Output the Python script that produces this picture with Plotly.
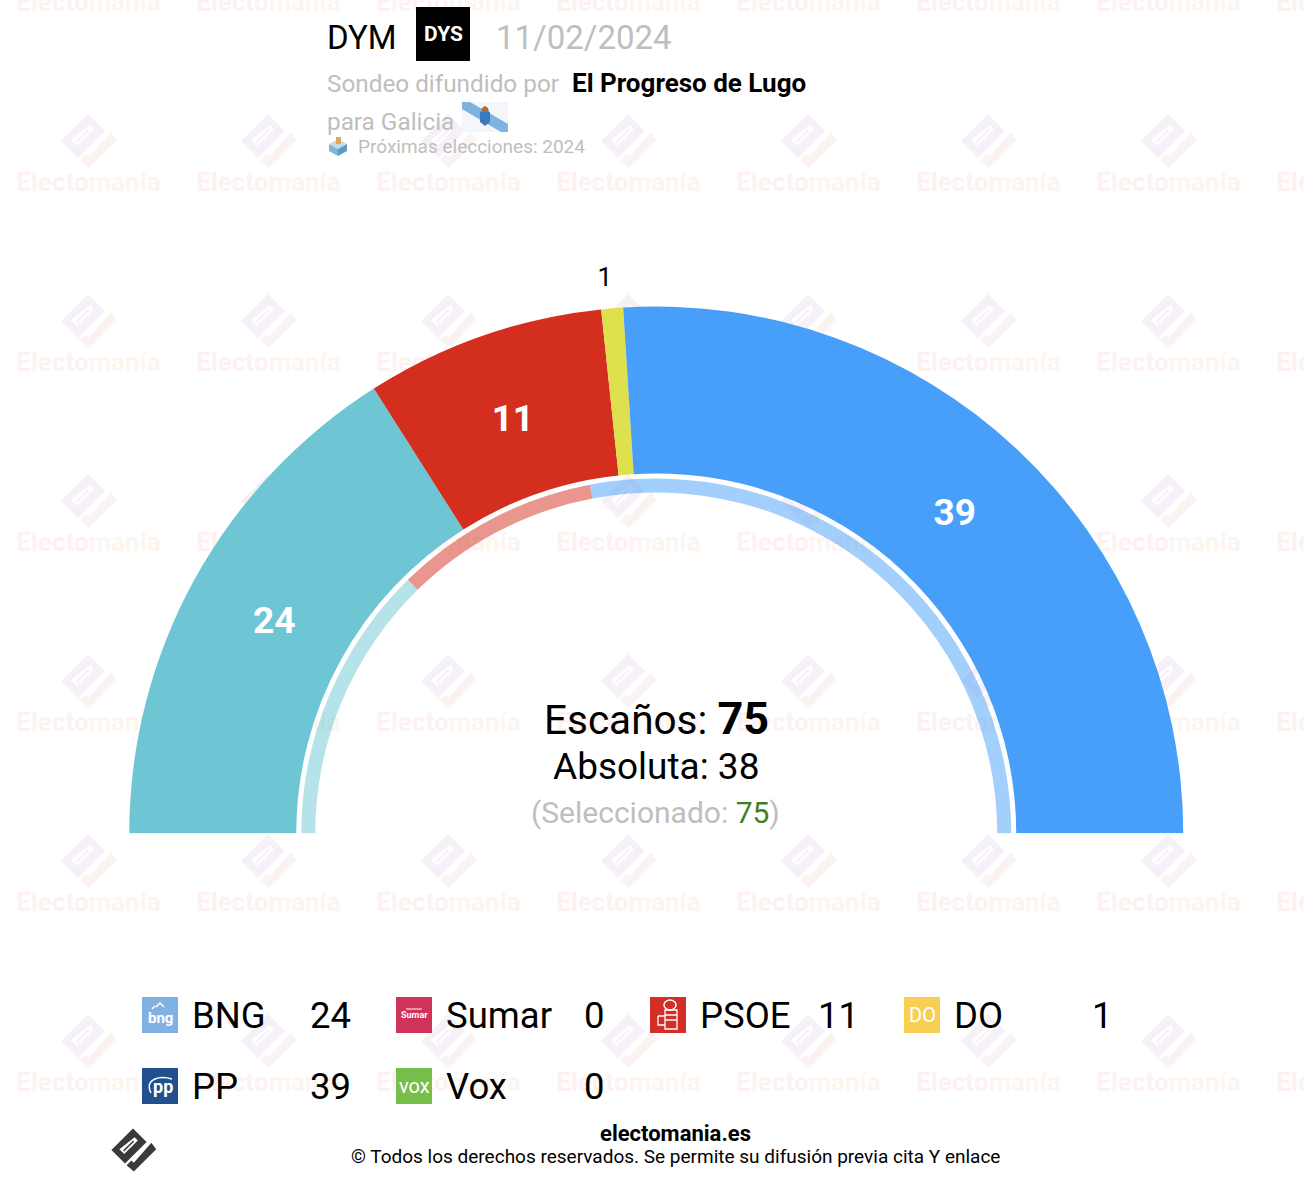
import plotly.graph_objects as go

# Datos del sondeo
partidos = ["BNG", "Sumar", "PSOE", "DO", "PP", "Vox"]
escanos = [24, 0, 11, 1, 39, 0]
colores = ["rgb(110,198,212)", "rgb(208,50,90)", "rgb(211,46,30)", "rgb(223,224,77)", "rgb(71,159,250)", "rgb(120,190,75)"]

# Anillo interior: resultado anterior
escanos_previos = [19, 0, 14, 0, 42, 0]

# Leyenda, por filas
leyenda_partidos = ["BNG", "Sumar", "PSOE", "DO", "PP", "Vox"]
leyenda_escanos = [24, 0, 11, 1, 39, 0]

TOTAL = 75
ABSOLUTA = 38
SELECCIONADO = 75

ANCHO = 1304
ALTO = 1188
FUENTE = "Roboto"
GRIS = "rgb(190,190,190)"
# Centro del semicírculo y radio del subplot polar, en píxeles (1 unidad de r = 1 px)
CX, CY, RADIO = 656.25, 833.5, 600


def sectores(valores):
    """Devuelve centro y ancho angular de cada sector (de izquierda a derecha)."""
    total = sum(valores)
    centros, anchos = [], []
    acumulado = 0
    for v in valores:
        ancho = 180 * v / total
        centros.append(180 - acumulado - ancho / 2)
        anchos.append(ancho)
        acumulado += ancho
    return centros, anchos


def logo_cuerpo(cx, cy, k=1.0):
    """Rombo del logo con la ranura y la barra interior."""
    def p(pts):
        return "M" + " L".join(f"{cx + x * k:.1f},{cy + y * k:.1f}" for x, y in pts) + " Z"
    return (p([(0, -27), (17, -10), (-10, 17), (-27, 0)])
            + p([(2, -16), (6, -12), (-11, 5), (-17, -1)])
            + p([(0, -12), (1.5, -10.5), (-11, 2), (-12.5, 0.5)]))


def logo_check(cx, cy, k=1.0):
    """Parte inferior del logo, en forma de marca."""
    pts = [(23, -9), (29, -1), (1, 27), (-8, 19), (-2, 13), (1, 16)]
    return "M" + " L".join(f"{cx + x * k:.1f},{cy + y * k:.1f}" for x, y in pts) + " Z"


def texto(x, y, s, size, color="black", anchor="left", bold=False):
    # las anotaciones dejan unos 3 px de relleno a cada lado
    desplaza = {"left": -3, "right": 3, "center": 0}[anchor]
    return dict(x=x + desplaza, y=y, xref="x", yref="y", text=f"<b>{s}</b>" if bold else s, showarrow=False,
                xanchor=anchor, yanchor="middle", font=dict(family=FUENTE, size=size, color=color))


fig = go.Figure()

# Marca de agua (por debajo del gráfico polar)
marca_x, marca_y = [], []
for fila in [4, 184, 364, 544, 724, 904, 1084]:
    for col in [88.5, 268.5, 448.5, 628.5, 808.5, 988.5, 1168.5, 1348.5]:
        marca_x.append(col)
        marca_y.append(fila)
marca = '<b><span style="color:#fdf2f1">Electo</span><span style="color:#fdf5ef">manía</span></b>'
fig.add_trace(go.Scatter(x=marca_x, y=marca_y, mode="text", text=[marca] * len(marca_x),
                         textfont=dict(family=FUENTE, size=26), textposition="middle center",
                         hoverinfo="skip", showlegend=False, cliponaxis=True))

shapes = []
for fila in [141, 321, 501, 681, 861, 1041]:
    for col in [88, 268, 448, 628, 808, 988, 1168]:
        shapes.append(dict(type="path", path=logo_cuerpo(col, fila), fillcolor="#f6f0f8", line_width=0, layer="below"))
        shapes.append(dict(type="path", path=logo_check(col, fila), fillcolor="#faf3f1", line_width=0, layer="below"))

# Semicírculo principal
theta, width = sectores(escanos)
fig.add_trace(go.Barpolar(theta=theta, width=width, r=[527 - 360] * len(partidos), base=360,
                          marker=dict(color=colores, line_width=0), hoverinfo="skip", showlegend=False))

# Anillo interior con el resultado anterior
theta_p, width_p = sectores(escanos_previos)
fig.add_trace(go.Barpolar(theta=theta_p, width=width_p, r=[355 - 341] * len(partidos), base=341,
                          marker=dict(color=colores, line_width=0, opacity=0.5), hoverinfo="skip", showlegend=False))

# Etiquetas de escaños dentro y fuera de los sectores
grandes = [i for i, e in enumerate(escanos) if e > 1]
fig.add_trace(go.Scatterpolar(theta=[theta[i] for i in grandes], r=[436] * len(grandes),
                              text=[f"<b>{escanos[i]}</b>" for i in grandes], mode="text",
                              textfont=dict(family=FUENTE, size=37, color="white"),
                              hoverinfo="skip", showlegend=False))
pequenos = [i for i, e in enumerate(escanos) if e == 1]
fig.add_trace(go.Scatterpolar(theta=[theta[i] + 0.5 for i in pequenos], r=[556] * len(pequenos),
                              text=[str(escanos[i]) for i in pequenos], mode="text",
                              textfont=dict(family=FUENTE, size=26, color="black"),
                              hoverinfo="skip", showlegend=False))

annotations = [
    # Cabecera
    texto(328, 37, "DYM", 33),
    texto(443, 34, "DYS", 21, "white", "center", True),
    texto(497, 37, "11/02/2024", 33, GRIS),
    texto(328, 83, "Sondeo difundido por", 24.3, GRIS),
    texto(573, 83, "El Progreso de Lugo", 26, "black", bold=True),
    texto(328, 121, "para Galicia", 24.3, GRIS),
    texto(359, 146, "Próximas elecciones: 2024", 19, GRIS),
    # Centro
    texto(656, 718, f"Escaños: <b><span style='font-size:45px'>{TOTAL}</span></b>", 40.5, "black", "center"),
    texto(656, 766, f"Absoluta: {ABSOLUTA}", 37, "black", "center"),
    texto(655, 812, f"(Seleccionado: <span style='color:#3f7f1f'>{SELECCIONADO}</span>)", 30, GRIS, "center"),
    # Pie
    texto(675.5, 1133, "electomania.es", 22, "black", "center", True),
    texto(675.5, 1156, "© Todos los derechos reservados. Se permite su difusión previa cita Y enlace", 19, "black", "center"),
]

shapes += [
    dict(type="rect", x0=416, x1=470, y0=7, y1=61, fillcolor="black", line_width=0),
    # Bandera de Galicia
    dict(type="rect", x0=462, x1=508, y0=102, y1=132, fillcolor="#f3f6fa", line_width=0),
    dict(type="path", path="M462,102 L470,102 L508,124 L508,132 L501,132 L462,109 Z", fillcolor="#7fb2e0", line_width=0),
    dict(type="path", path="M480,112 L490,112 L490,122 L485,126 L480,122 Z", fillcolor="#3a78c0", line_width=0),
    dict(type="path", path="M481,112 L482,108 L485,106 L488,108 L489,112 Z", fillcolor="#a8703f", line_width=0),
    # Urna
    dict(type="path", path="M329,144 L338,139 L347,144 L338,149 Z", fillcolor="#c3dcec", line_width=0),
    dict(type="path", path="M329,144 L338,149 L338,156 L329,151 Z", fillcolor="#7fb4d8", line_width=0),
    dict(type="path", path="M338,149 L347,144 L347,151 L338,156 Z", fillcolor="#5f9ac6", line_width=0),
    dict(type="rect", x0=336, x1=341, y0=137, y1=144, fillcolor="#e0a860", line_width=0),
    # Logo inferior
    dict(type="path", path=logo_cuerpo(133, 1150, 0.8), fillcolor="#3a3a3a", line_width=0),
    dict(type="path", path=logo_check(133, 1150, 0.8), fillcolor="#3a3a3a", line_width=0),
]

# Leyenda con los iconos de los partidos
colores_icono = {"BNG": "#7fb2e3", "Sumar": "#d0325a", "PSOE": "#d32f26", "DO": "#f9cf53", "PP": "#22508f", "Vox": "#78be4b"}
rotulos_icono = {"BNG": ("bng", 15, True), "Sumar": ("Sumar", 9, True), "PSOE": ("", 10, False),
                 "DO": ("DO", 20, False), "PP": ("pp", 18, True), "Vox": ("vox", 20, False)}
for i, (nombre, valor) in enumerate(zip(leyenda_partidos, leyenda_escanos)):
    col = i % 4
    x0 = 142 + 254 * col
    yc = 1015 if i < 4 else 1086
    shapes.append(dict(type="rect", x0=x0, x1=x0 + 36, y0=yc - 18, y1=yc + 18, fillcolor=colores_icono[nombre], line_width=0))
    rotulo, tam, negrita = rotulos_icono[nombre]
    if rotulo:
        dx = 3 if nombre == "PP" else 0
        annotations.append(texto(x0 + 18 + dx, yc + (3 if nombre == "BNG" else 0), rotulo, tam, "white", "center", negrita))
    annotations.append(texto(x0 + 51, yc, nombre, 36.5))
    annotations.append(texto(x0 + 208, yc, str(valor), 36.5, "black", "right"))

# Detalles de los iconos
shapes += [
    dict(type="circle", x0=664, x1=676, y0=1000, y1=1010, line=dict(color="white", width=1.5)),
    dict(type="path", path="M665,1010 L677,1010 L677,1029 L665,1029 Z M658,1016 L665,1016 M658,1016 L658,1025 L665,1025 M665,1015 L677,1015 M665,1020 L677,1020",
         line=dict(color="white", width=1.3)),
    dict(type="path", path="M406,1009 L422,1009", line=dict(color="white", width=1)),
    dict(type="path", path="M156,1007 L160,1003 L164,1007 M152,1009 L155,1006", line=dict(color="white", width=1.5)),
    dict(type="path", path="M151,1093 Q146,1083 155,1079 Q162,1076 172,1079", line=dict(color="white", width=1.5)),
]

fig.update_layout(
    width=ANCHO,
    height=ALTO,
    margin=dict(l=0, r=0, t=0, b=0),
    paper_bgcolor="white",
    plot_bgcolor="rgba(0,0,0,0)",
    showlegend=False,
    xaxis=dict(range=[0, ANCHO], visible=False, domain=[0, 1], fixedrange=True),
    yaxis=dict(range=[ALTO, 0], visible=False, domain=[0, 1], fixedrange=True),
    polar=dict(
        domain=dict(x=[(CX - RADIO) / ANCHO, (CX + RADIO) / ANCHO], y=[(ALTO - CY) / ALTO, (ALTO - CY + RADIO) / ALTO]),
        sector=[0, 180],
        bgcolor="rgba(0,0,0,0)",
        barmode="overlay",
        radialaxis=dict(range=[0, RADIO], visible=False),
        angularaxis=dict(visible=False, direction="counterclockwise", rotation=0),
    ),
    shapes=shapes,
    annotations=annotations,
)

fig.write_html("out.html", config=dict(displayModeBar=False), post_script="document.body.style.margin='0';")
